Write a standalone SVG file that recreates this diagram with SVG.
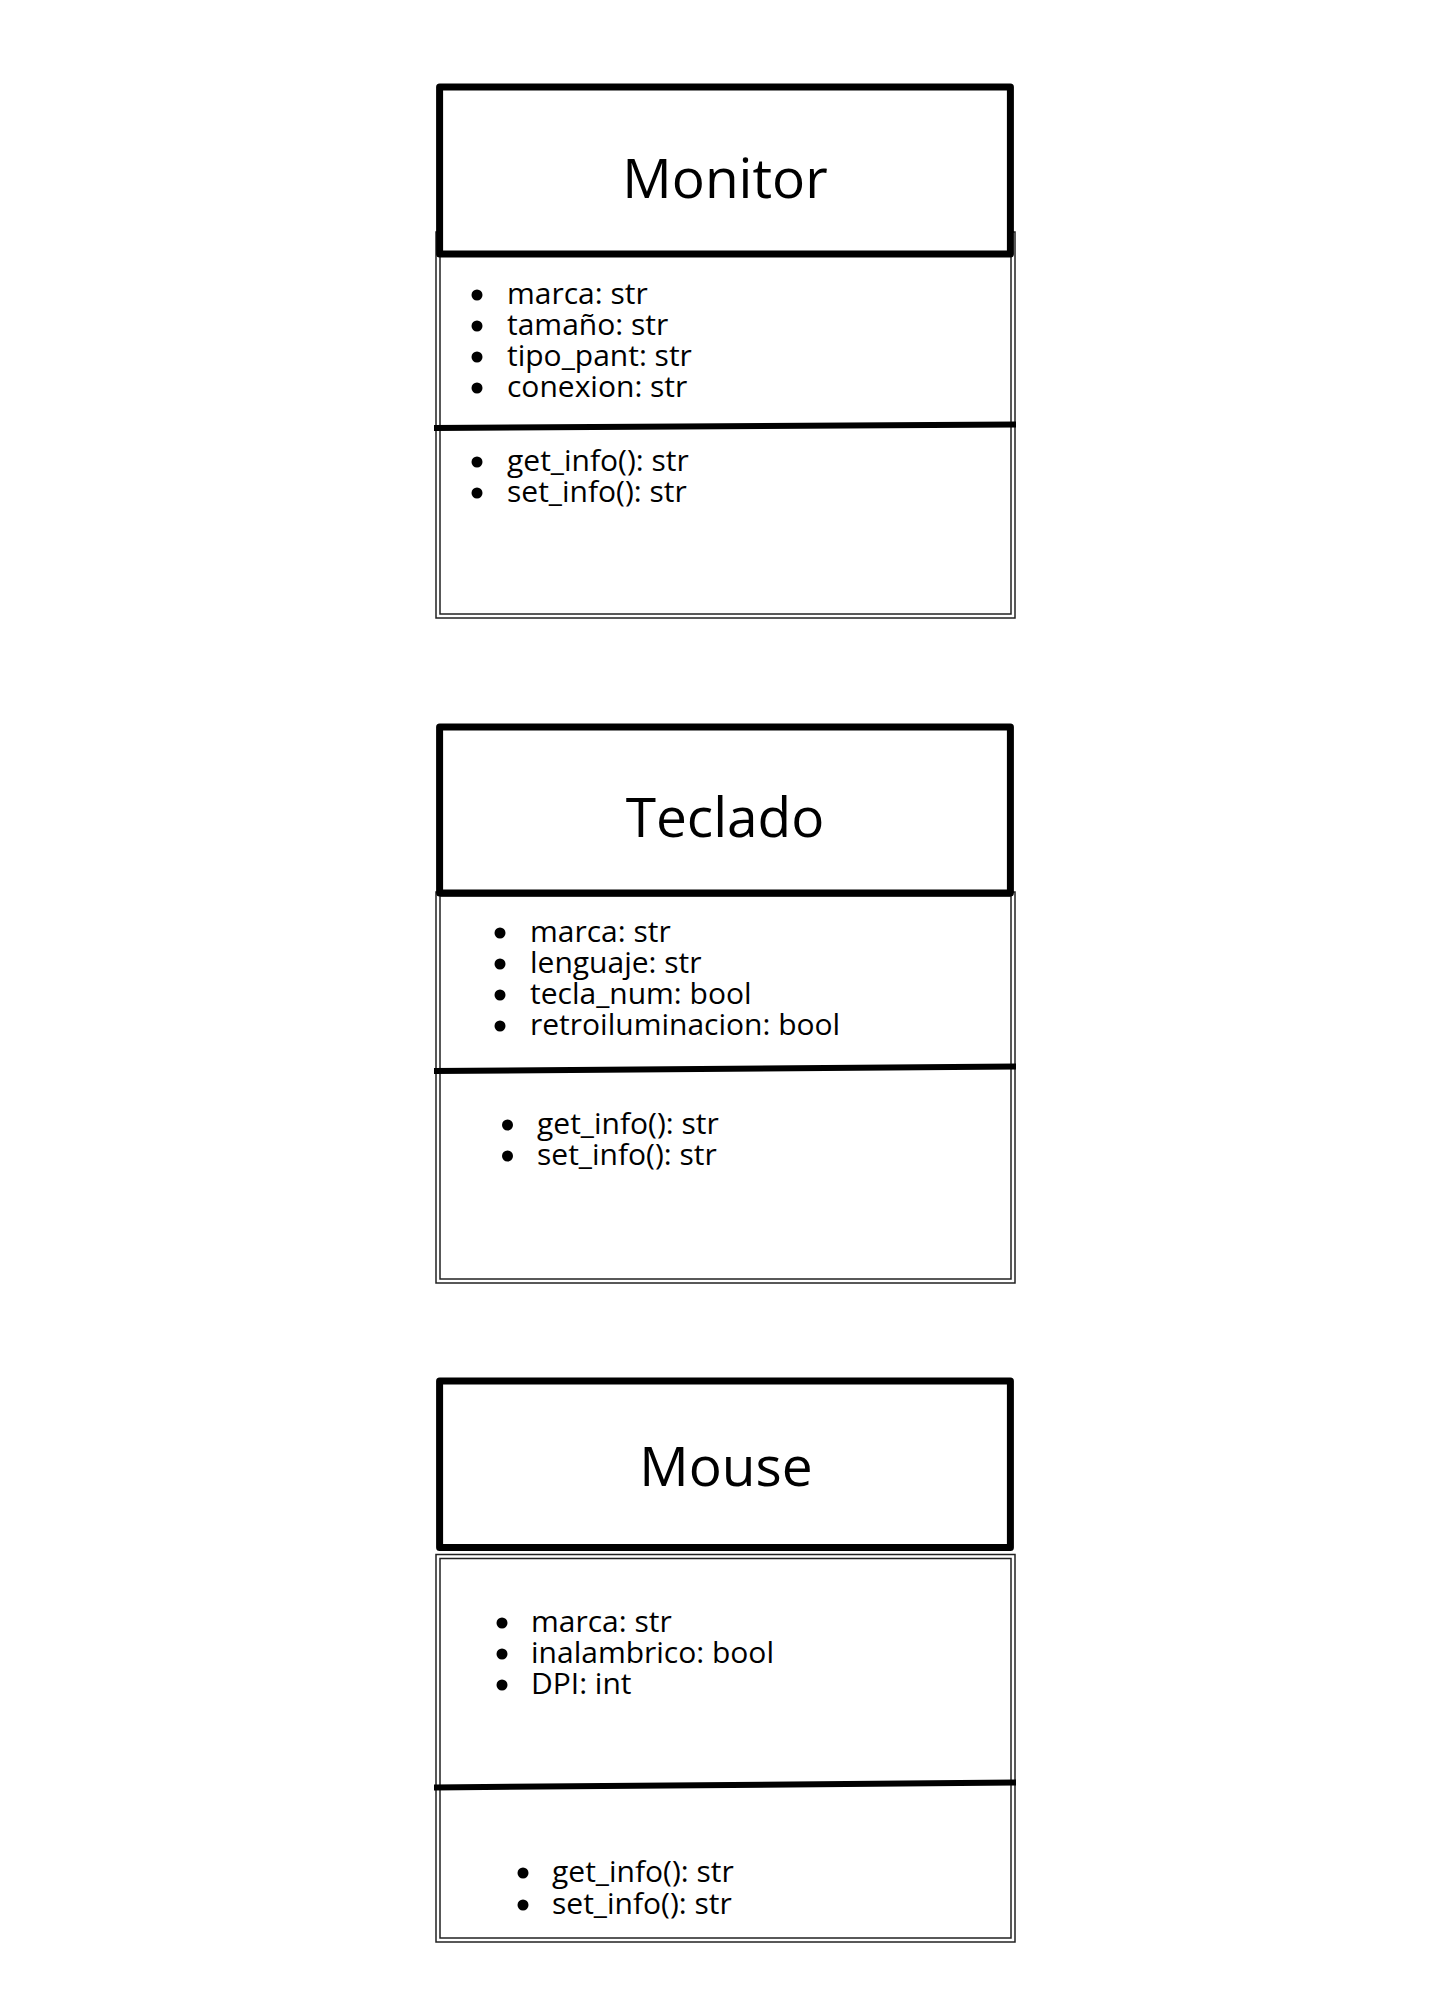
<svg xmlns="http://www.w3.org/2000/svg" width="1448" height="2000" viewBox="0 0 1448 2000">
<style>
.bg{fill:#fff}
.head{fill:#fff;stroke:#000;stroke-width:7;stroke-linejoin:round}
.bo{fill:#fff;stroke:#222;stroke-width:1.5}
.bi{fill:none;stroke:#222;stroke-width:1.5}
.div{stroke:#000;stroke-width:6;fill:none}
.title{font-family:"Open Sans","Noto Sans",sans-serif;font-size:55px;fill:#000;text-anchor:middle}
.item{font-family:"Open Sans","Noto Sans",sans-serif;font-size:30px;fill:#000}
.dot{fill:#000}
</style>
<rect class="bg" x="0" y="0" width="1448" height="2000"/>
<g id="connectors"/>
<g id="monitor">
<rect class="bo" x="436" y="232" width="579" height="386"/>
<rect class="bi" x="440" y="236" width="571" height="378"/>
<rect class="head" x="439.6" y="87" width="570.8" height="167"/>
<line class="div" x1="434" y1="428" x2="1016" y2="424.5"/>
<text class="title" x="725" y="198">Monitor</text>
<circle class="dot" cx="477" cy="295" r="5.5"/>
<circle class="dot" cx="477" cy="326" r="5.5"/>
<circle class="dot" cx="477" cy="357" r="5.5"/>
<circle class="dot" cx="477" cy="388" r="5.5"/>
<text class="item" x="507" y="304">marca: str</text>
<text class="item" x="507" y="335">tamaño: str</text>
<text class="item" x="507" y="366">tipo_pant: str</text>
<text class="item" x="507" y="397">conexion: str</text>
<circle class="dot" cx="477" cy="462" r="5.5"/>
<circle class="dot" cx="477" cy="493" r="5.5"/>
<text class="item" x="507" y="471">get_info(): str</text>
<text class="item" x="507" y="502">set_info(): str</text>
</g>
<g id="teclado">
<rect class="bo" x="436" y="892" width="579" height="391"/>
<rect class="bi" x="440" y="896" width="571" height="383"/>
<rect class="head" x="439.6" y="727" width="570.8" height="166"/>
<line class="div" x1="434" y1="1071" x2="1016" y2="1066.5"/>
<text class="title" x="725" y="837">Teclado</text>
<circle class="dot" cx="500" cy="933" r="5.5"/>
<circle class="dot" cx="500" cy="964" r="5.5"/>
<circle class="dot" cx="500" cy="995" r="5.5"/>
<circle class="dot" cx="500" cy="1026" r="5.5"/>
<text class="item" x="530" y="942">marca: str</text>
<text class="item" x="530" y="973">lenguaje: str</text>
<text class="item" x="530" y="1004">tecla_num: bool</text>
<text class="item" x="530" y="1035">retroiluminacion: bool</text>
<circle class="dot" cx="507.5" cy="1125" r="5.5"/>
<circle class="dot" cx="507.5" cy="1156" r="5.5"/>
<text class="item" x="537" y="1134">get_info(): str</text>
<text class="item" x="537" y="1165">set_info(): str</text>
</g>
<g id="mouse">
<rect class="bo" x="436" y="1554.5" width="579" height="387.5"/>
<rect class="bi" x="440" y="1558.5" width="571" height="379.5"/>
<rect class="head" x="439.6" y="1381" width="570.8" height="166.5"/>
<line class="div" x1="434" y1="1787.5" x2="1016" y2="1782.5"/>
<text class="title" x="726" y="1486">Mouse</text>
<circle class="dot" cx="502" cy="1623" r="5.5"/>
<circle class="dot" cx="502" cy="1654" r="5.5"/>
<circle class="dot" cx="502" cy="1685" r="5.5"/>
<text class="item" x="531" y="1632">marca: str</text>
<text class="item" x="531" y="1663">inalambrico: bool</text>
<text class="item" x="531" y="1694">DPI: int</text>
<circle class="dot" cx="523" cy="1873" r="5.5"/>
<circle class="dot" cx="523" cy="1905" r="5.5"/>
<text class="item" x="552" y="1882">get_info(): str</text>
<text class="item" x="552" y="1914">set_info(): str</text>
</g>
</svg>
